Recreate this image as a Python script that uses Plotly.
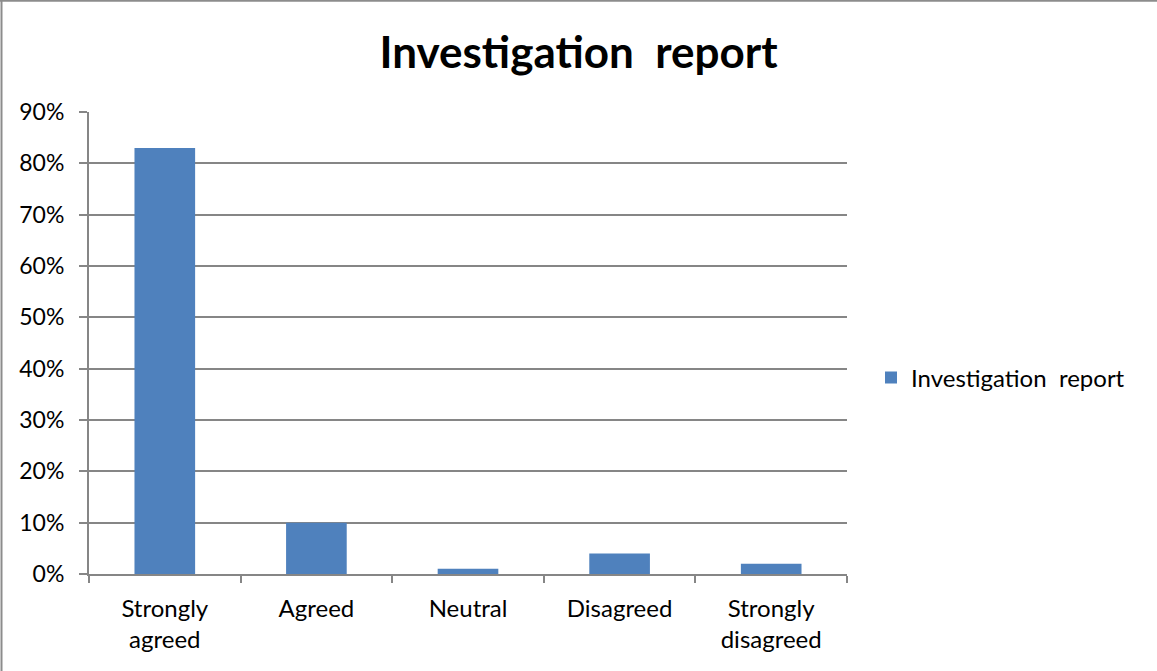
import plotly.graph_objects as go

# Survey responses for the investigation report
categories = ["Strongly<br>agreed", "Agreed", "Neutral", "Disagreed", "Strongly<br>disagreed"]
shares = [0.83, 0.10, 0.01, 0.04, 0.02]
series_name = "Investigation  report"
tick_values = [0, 0.1, 0.2, 0.3, 0.4, 0.5, 0.6, 0.7, 0.8, 0.9]
tick_labels = ["0%", "10%", "20%", "30%", "40%", "50%", "60%", "70%", "80%", "90%"]

W, H = 1157, 671
L, R, T, B = 89, 310, 112, 97
pw, ph = W - L - R, H - T - B

FONT = "Lato"
GRID = "#868686"

fig = go.Figure()
fig.add_trace(go.Bar(
    x=categories, y=shares, name=series_name,
    marker=dict(color="#4F81BD", line=dict(width=0)),
    width=0.4, showlegend=True,
))

# frame around the chart area (left and top edges)
def px_x(p):
    return (p - L) / pw

def px_y(p):
    return (H - B - p) / ph

fig.add_shape(type="line", xref="paper", yref="paper",
              x0=px_x(1.5), x1=px_x(1.5), y0=px_y(671), y1=px_y(0.5),
              line=dict(color="#8c8c8c", width=2))
fig.add_shape(type="line", xref="paper", yref="paper",
              x0=px_x(0), x1=px_x(1157), y0=px_y(0.8), y1=px_y(0.8),
              line=dict(color="#8c8c8c", width=2))

fig.update_layout(
    width=W, height=H,
    margin=dict(l=L, r=R, t=T, b=B, autoexpand=False),
    paper_bgcolor="white", plot_bgcolor="white",
    font=dict(family=FONT, color="black"),
    title=dict(text="<b>Investigation  report</b>", x=0.5, xanchor="center",
               y=1 - 53 / H, yanchor="middle", xref="container", yref="container",
               font=dict(size=44, family=FONT, color="black")),
    showlegend=True,
    legend=dict(x=px_x(871), y=px_y(378), xanchor="left", yanchor="middle",
                font=dict(size=24, family=FONT, color="black"),
                bgcolor="rgba(0,0,0,0)", itemwidth=30),
    bargap=0.6,
    xaxis=dict(
        type="category", showgrid=False,
        showline=True, linecolor=GRID, linewidth=2,
        ticks="outside", tickson="boundaries", ticklen=7, tickcolor=GRID, tickwidth=2,
        tickfont=dict(size=24, family=FONT, color="black"),
        ticklabelstandoff=12,
        range=[-0.5, 4.5],
    ),
    yaxis=dict(
        range=[0, 0.9], tickvals=tick_values, ticktext=tick_labels,
        showgrid=True, gridcolor=GRID, gridwidth=1.5,
        showline=True, linecolor=GRID, linewidth=2,
        ticks="outside", ticklen=8, tickcolor=GRID, tickwidth=2,
        tickfont=dict(size=23, family=FONT, color="black"),
        ticklabelstandoff=10,
        zeroline=False,
    ),
)

fig.write_html("out.html")
